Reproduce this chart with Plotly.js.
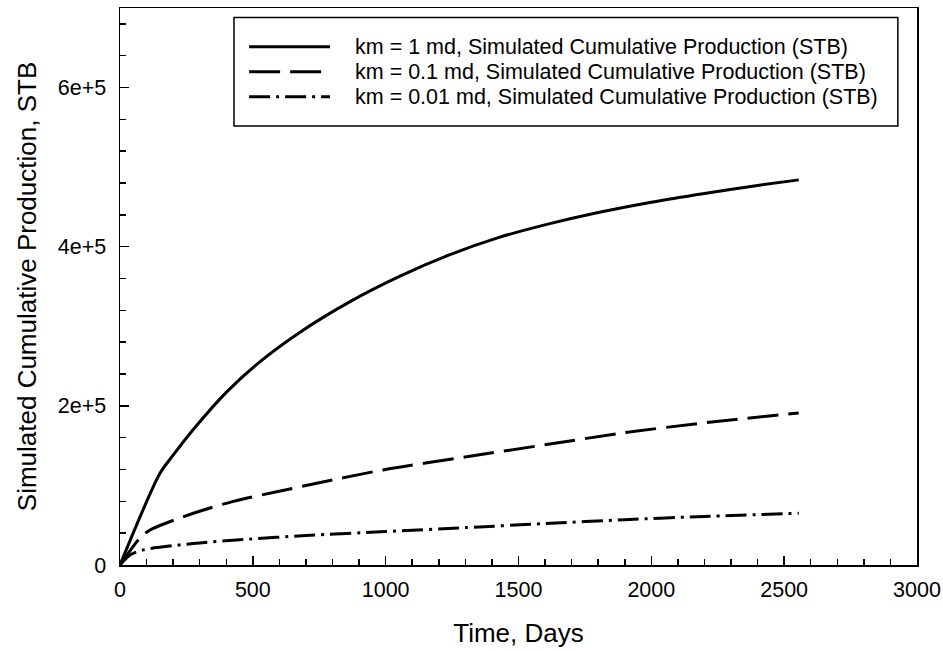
<!DOCTYPE html>
<html>
<head>
<meta charset="utf-8">
<script src="https://cdn.plot.ly/plotly-3.0.1.min.js"></script>
<style>html,body{margin:0;padding:0;background:#fff;}#chart{width:943px;height:651px;}</style>
</head>
<body>
<div id="chart"></div>
<script>
// ---- data ----
var days_1md   = [0, 150, 200, 275, 400, 525, 675, 866, 1054, 1242, 1430, 1618, 1800, 2000, 2200, 2400, 2555];
var cum_1md    = [0, 115000, 138000, 170000, 217000, 255000, 292000, 331000, 363000, 390000, 412000, 429000, 443000, 456000, 467000, 477000, 484000];

var days_01md  = [0, 75, 113, 276, 427, 590, 709, 991, 1305, 1618, 1894, 2208, 2555];
var cum_01md   = [0, 34000, 44000, 65000, 80000, 92000, 100500, 119500, 136000, 152000, 166000, 179000, 191000];

var days_001md = [0, 38, 88, 276, 464, 700, 1000, 1300, 1600, 1900, 2200, 2555];
var cum_001md  = [0, 12600, 19000, 27000, 32000, 37000, 42000, 47000, 52000, 57000, 61000, 65000];

var seriesNames = [
  'km = 1 md, Simulated Cumulative Production (STB)',
  'km = 0.1 md, Simulated Cumulative Production (STB)',
  'km = 0.01 md, Simulated Cumulative Production (STB)'
];
var yTickVals = [0, 200000, 400000, 600000];
var yTickText = ['0', '2e+5', '4e+5', '6e+5'];
var xTickVals = [0, 500, 1000, 1500, 2000, 2500, 3000];
var xTickText = ['0', '500', '1000', '1500', '2000', '2500', '3000'];

// ---- styles ----
var FONT = 'Liberation Sans, Arial, Helvetica, sans-serif';
var dashes = ['solid', '31px,10px', '21px,6px,3px,6px'];
var xs = [days_1md, days_01md, days_001md];
var ys = [cum_1md, cum_01md, cum_001md];

var traces = xs.map(function (x, i) {
  return {
    x: x, y: ys[i], type: 'scatter', mode: 'lines', name: seriesNames[i],
    line: {color: '#000', width: 3, dash: dashes[i], shape: 'spline', smoothing: 0.8},
    showlegend: false, hoverinfo: 'x+y'
  };
});

// manual legend (box, line samples, labels) in paper coordinates
var shapes = [{
  type: 'rect', xref: 'paper', yref: 'paper',
  x0: 0.143, x1: 0.976, y0: 0.788, y1: 0.983,
  line: {color: '#000', width: 1.5}, fillcolor: '#fff', layer: 'above'
}];
var annotations = [];
var rowY = [0.9306, 0.8856, 0.8407];
for (var i = 0; i < 3; i++) {
  shapes.push({
    type: 'line', xref: 'paper', yref: 'paper',
    x0: 0.162, x1: 0.2635, y0: rowY[i], y1: rowY[i],
    line: {color: '#000', width: 3, dash: dashes[i]}, layer: 'above'
  });
  annotations.push({
    xref: 'paper', yref: 'paper', x: 0.2923, y: rowY[i],
    xanchor: 'left', yanchor: 'middle', showarrow: false,
    text: seriesNames[i], font: {family: FONT, size: 21.5, color: '#000'}
  });
}

var axisCommon = {
  showline: true, mirror: true, linecolor: '#000', linewidth: 1.5,
  ticks: 'inside', ticklen: 9, tickwidth: 1.5, tickcolor: '#000',
  showgrid: false, zeroline: false,
  tickfont: {family: FONT, size: 21.5, color: '#000'},
  tickmode: 'array'
};

var layout = {
  width: 943, height: 651,
  margin: {l: 120, r: 26, t: 8, b: 86},
  paper_bgcolor: '#fff', plot_bgcolor: '#fff',
  font: {family: FONT, color: '#000'},
  showlegend: false,
  xaxis: Object.assign({}, axisCommon, {
    range: [0, 3000], tickvals: xTickVals, ticktext: xTickText,
    minor: {tickmode: 'linear', tick0: 0, dtick: 100, ticks: 'inside', ticklen: 6, tickwidth: 1.5, tickcolor: '#000', showgrid: false},
    ticklabelstandoff: 5,
    title: {text: 'Time, Days', font: {family: FONT, size: 26, color: '#000'}, standoff: 22}
  }),
  yaxis: Object.assign({}, axisCommon, {
    range: [0, 700000], tickvals: yTickVals, ticktext: yTickText,
    minor: {tickmode: 'linear', tick0: 0, dtick: 40000, ticks: 'inside', ticklen: 6, tickwidth: 1.5, tickcolor: '#000', showgrid: false},
    ticklabelstandoff: 8,
    title: {text: 'Simulated Cumulative Production, STB', font: {family: FONT, size: 26, color: '#000'}, standoff: 13}
  }),
  shapes: shapes,
  annotations: annotations
};

Plotly.newPlot('chart', traces, layout, {displayModeBar: false, staticPlot: true});
</script>
</body>
</html>
